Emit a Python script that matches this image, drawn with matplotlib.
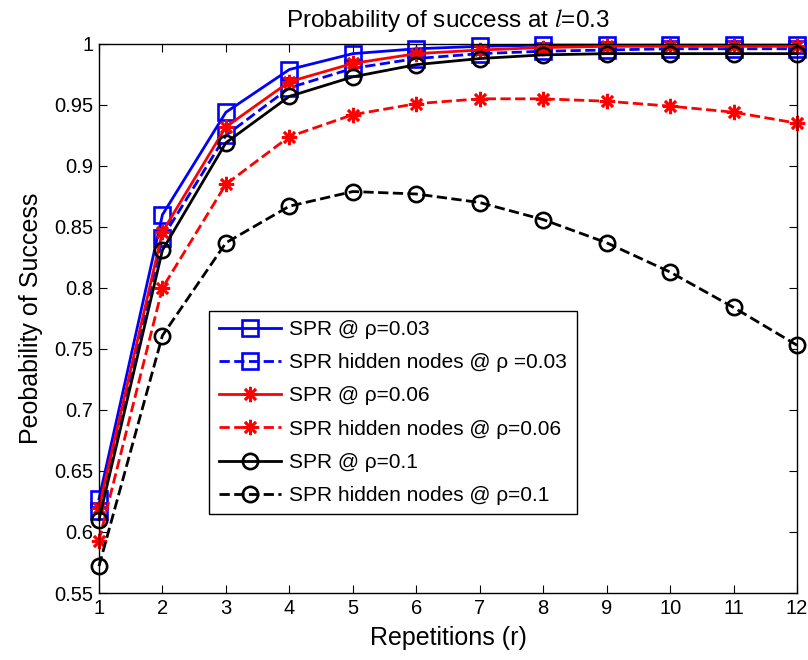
import matplotlib
matplotlib.use('Agg')
import matplotlib.pyplot as plt
from matplotlib.ticker import FormatStrFormatter, MultipleLocator

# values
reps = [1, 2, 3, 4, 5, 6, 7, 8, 9, 10, 11, 12]
spr_003 = [0.627, 0.860, 0.944, 0.979, 0.992, 0.996, 0.998, 0.999, 0.999, 0.999, 0.999, 0.999]
hidden_003 = [0.617, 0.841, 0.925, 0.964, 0.980, 0.988, 0.992, 0.994, 0.995, 0.996, 0.996, 0.996]
spr_006 = [0.620, 0.846, 0.932, 0.969, 0.984, 0.992, 0.995, 0.997, 0.998, 0.998, 0.998, 0.998]
hidden_006 = [0.593, 0.800, 0.885, 0.924, 0.942, 0.951, 0.955, 0.955, 0.953, 0.949, 0.944, 0.935]
spr_01 = [0.610, 0.831, 0.919, 0.957, 0.973, 0.983, 0.988, 0.991, 0.992, 0.992, 0.992, 0.992]
hidden_01 = [0.572, 0.761, 0.837, 0.867, 0.879, 0.877, 0.870, 0.856, 0.837, 0.813, 0.784, 0.753]

labels = ["SPR @ \u03c1=0.03", "SPR hidden nodes @ \u03c1 =0.03",
          "SPR @ \u03c1=0.06", "SPR hidden nodes @ \u03c1=0.06",
          "SPR @ \u03c1=0.1", "SPR hidden nodes @ \u03c1=0.1"]

plt.rcParams['font.family'] = ['Liberation Sans', 'DejaVu Sans']
plt.rcParams['mathtext.fontset'] = 'stix'

fig = plt.figure(figsize=(8.08, 6.6), dpi=100)
ax = fig.add_axes([0.1225, 0.1015, 0.864, 0.832])

lw = 2.0
mew = 1.9
star = (8, 2, 0)  # asterisk like the matlab '*'
common = dict(lw=lw, mew=mew, clip_on=False)
ax.plot(reps, spr_003, '-', color='blue', marker='s', ms=11, mfc='none', label=labels[0], **common)
ax.plot(reps, hidden_003, '--', color='blue', marker='s', ms=11, mfc='none', label=labels[1], **common)
ax.plot(reps, spr_006, '-', color='red', marker=star, ms=11, label=labels[2], **common)
ax.plot(reps, hidden_006, '--', color='red', marker=star, ms=11, label=labels[3], **common)
ax.plot(reps, spr_01, '-', color='black', marker='o', ms=11, mfc='none', label=labels[4], **common)
ax.plot(reps, hidden_01, '--', color='black', marker='o', ms=11, mfc='none', label=labels[5], **common)

ax.set_xlim(1, 12)
ax.set_ylim(0.55, 1.0)
ax.xaxis.set_major_locator(MultipleLocator(1))
ax.yaxis.set_major_locator(MultipleLocator(0.05))
ax.yaxis.set_major_formatter(FormatStrFormatter('%g'))
ax.tick_params(direction='in', top=True, right=True, length=6, width=0.8, labelsize=14.5, pad=4)
for s in ax.spines.values():
    s.set_linewidth(1.0)

ax.set_xlabel("Repetitions (r)", fontsize=18, labelpad=6)
ax.set_ylabel("Peobability of Success", fontsize=18, labelpad=8)
ax.set_title("Probability of success at $\\mathit{l}$=0.3", fontsize=17.5, pad=12)

leg = ax.legend(loc='upper left', bbox_to_anchor=(0.158, 0.514), borderaxespad=0.,
                fontsize=15, handlelength=3.0, handletextpad=0.4, fancybox=False,
                framealpha=1, edgecolor='black', labelspacing=0.68, borderpad=0.45)
leg.get_frame().set_linewidth(1.0)

fig.savefig("out.png", dpi=100)
